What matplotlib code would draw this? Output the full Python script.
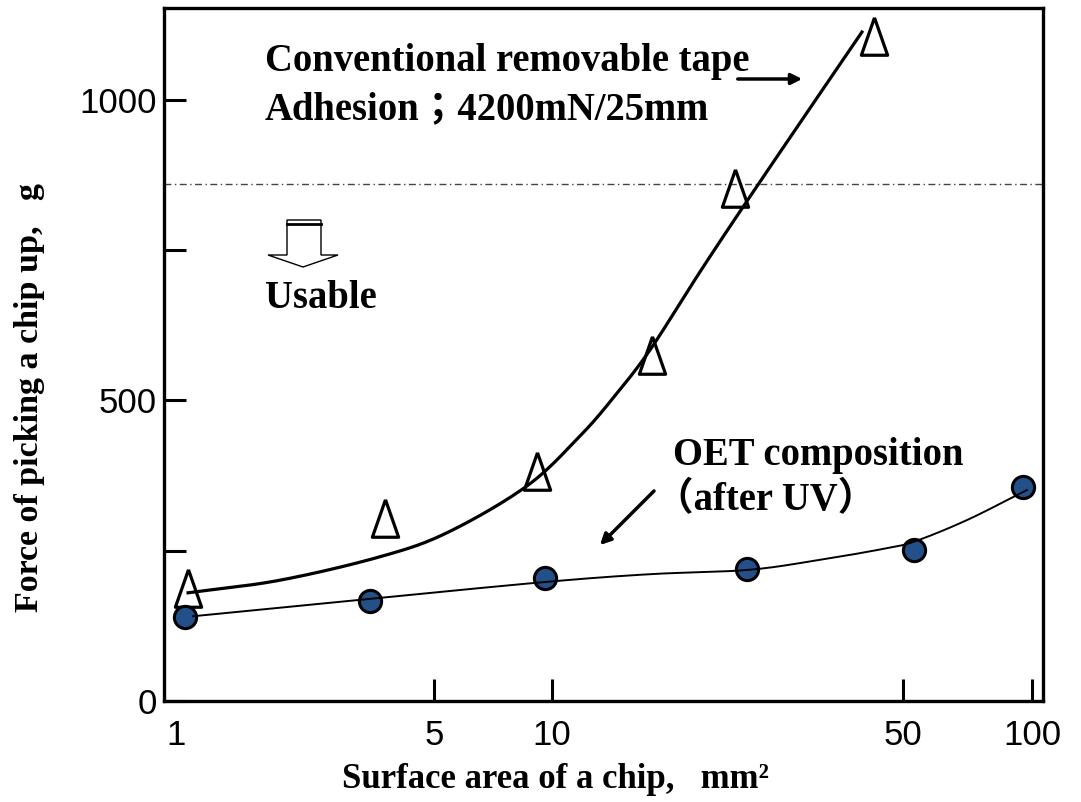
import numpy as np
import matplotlib
matplotlib.use("Agg")
import matplotlib.pyplot as plt
from matplotlib.patches import Polygon
from matplotlib.ticker import FixedLocator, NullLocator

# chip surface area (mm2) vs force of picking a chip up (g)
oet_area = [1.06, 3.35, 9.6, 24.4, 53.0, 95.3]
oet_force = [140, 166, 205, 220, 251, 356]
tape_area = [1.08, 3.68, 9.16, 15.8, 23.1, 43.7]
tape_force = [188, 304, 383, 576, 854, 1107]

# hand drawn trend curves
tape_curve_area = [1.078, 1.913, 3.57, 5.40, 8.64, 11.37, 13.23, 15.67, 19.71, 24.01, 31.18, 41.42]
tape_curve_force = [180, 201, 240, 280, 358, 441, 504, 584, 714, 822, 962, 1113]
oet_curve_area = [1.112, 3.35, 9.6, 15.67, 24.45, 33.7, 45.6, 53.0, 70.5, 97.3]
oet_curve_force = [141, 170, 198, 211, 218, 234, 253, 265, 301, 351]

usable_limit = 860
x_ticks = [1, 5, 10, 50, 100]
x_ticklabels = ['1', '5', '10', '50', '100']
y_ticks = [0, 250, 500, 750, 1000]
y_ticklabels = ['0', '', '500', '', '1000']

W, H = 1081, 802
SERIF = ['Liberation Serif', 'Noto Sans CJK JP', 'DejaVu Sans']

# the log axis of the original is drawn by hand, decades are not even
scale_log = np.log10([0.1, 1, 5, 10, 50, 100, 1000])
scale_pos = np.array([-193, 176, 434, 552, 903, 1032, 1460], dtype=float)


def fwd(x):
    x = np.clip(np.asarray(x, dtype=float), 1e-6, None)
    return np.interp(np.log10(x), scale_log, scale_pos)


def inv(p):
    return 10 ** np.interp(np.asarray(p, dtype=float), scale_pos, scale_log)


def fp(x, y):
    # pixel position in the picture -> figure fraction
    return (x / W, 1 - y / H)


def smooth(xs, ys, n=24):
    # catmull-rom through the read points, done in screen-like space
    p = np.column_stack([fwd(xs), np.asarray(ys, float) * 0.6])
    p = np.vstack([2 * p[0] - p[1], p, 2 * p[-1] - p[-2]])
    out = []
    t = np.linspace(0, 1, n, endpoint=False)[:, None]
    for i in range(1, len(p) - 2):
        p0, p1, p2, p3 = p[i - 1], p[i], p[i + 1], p[i + 2]
        out.append(0.5 * (2 * p1 + (p2 - p0) * t
                          + (2 * p0 - 5 * p1 + 4 * p2 - p3) * t ** 2
                          + (3 * p1 - p0 - 3 * p2 + p3) * t ** 3))
    out.append(p[-2][None, :])
    out = np.vstack(out)
    return inv(out[:, 0]), out[:, 1] / 0.6


fig = plt.figure(figsize=(W / 100, H / 100), dpi=100)
ax = fig.add_axes([164 / W, 1 - 701 / H, (1043 - 164) / W, (701 - 8) / H])
ax.set_xscale('function', functions=(fwd, inv))
ax.set_xlim(inv(164), inv(1043))
ax.set_ylim(0, 1153)

tri = [(0, 1.0), (-0.7, -1.0), (0.7, -1.0), (0, 1.0)]
ax.plot(tape_area, tape_force, linestyle='none', marker=tri, markersize=27,
        markerfacecolor='none', markeredgecolor='black', markeredgewidth=2.3, zorder=2)
ax.plot(oet_area, oet_force, linestyle='none', marker='o', markersize=16,
        markerfacecolor='#24508a', markeredgecolor='black', markeredgewidth=2.2, zorder=2)
ax.plot(*smooth(tape_curve_area, tape_curve_force), color='black', lw=2.3, zorder=3)
ax.plot(*smooth(oet_curve_area, oet_curve_force), color='black', lw=1.4, zorder=3)

ax.axhline(usable_limit, color='#444444', lw=1.0, linestyle=(0, (5, 2.5, 1, 2.5)), zorder=1)

ax.xaxis.set_major_locator(FixedLocator(x_ticks))
ax.xaxis.set_minor_locator(NullLocator())
ax.set_xticklabels(x_ticklabels)
ax.set_yticks(y_ticks)
ax.set_yticklabels(y_ticklabels)
ax.tick_params(direction='in', length=16, width=2.2, labelsize=25, colors='black')
ax.tick_params(axis='x', pad=13)
ax.tick_params(axis='y', pad=5)
for lab in ax.get_xticklabels() + ax.get_yticklabels():
    lab.set_family('Liberation Sans')
ax.xaxis.get_major_ticks()[0].tick1line.set_visible(False)
for sp in ax.spines.values():
    sp.set_linewidth(2.4)

# axis titles
fig.text(*fp(555, 780), 'Surface area of a chip,   mm²', ha='center', va='center',
         family=SERIF, weight='bold', fontsize=25)
fig.text(*fp(30, 397), 'Force of picking a chip up,   g', ha='center', va='center',
         rotation=90, family=SERIF, weight='bold', fontsize=24.5)

# annotations
fig.text(*fp(265, 62), 'Conventional removable tape', ha='left', va='center',
         family=SERIF, weight='bold', fontsize=27.8)
fig.text(*fp(265, 110), 'Adhesion；4200mN/25mm', ha='left', va='center',
         family=SERIF, weight='bold', fontsize=27.8)
fig.text(*fp(265, 298), 'Usable', ha='left', va='center',
         family=SERIF, weight='bold', fontsize=27.8)
fig.text(*fp(673, 455), 'OET composition', ha='left', va='center',
         family=SERIF, weight='bold', fontsize=27.8)
fig.text(*fp(655, 501), '（after UV）', ha='left', va='center',
         family=SERIF, weight='bold', fontsize=27.8)

ax.annotate('', xy=fp(805, 79), xytext=fp(735, 79), xycoords='figure fraction',
            textcoords='figure fraction',
            arrowprops=dict(arrowstyle='-|>', lw=2.5, color='black', mutation_scale=16))
ax.annotate('', xy=fp(598, 547), xytext=fp(656, 489), xycoords='figure fraction',
            textcoords='figure fraction',
            arrowprops=dict(arrowstyle='-|>', lw=2.5, color='black', mutation_scale=16))

# hollow block arrow pointing to the usable side
block = [fp(287, 220), fp(321, 220), fp(321, 255), fp(338, 255), fp(303, 267),
         fp(268, 255), fp(287, 255)]
fig.add_artist(Polygon(block, closed=True, facecolor='white', edgecolor='black',
                       lw=1.0, transform=fig.transFigure))
fig.add_artist(plt.Line2D([287 / W, 321 / W], [1 - 223.5 / H, 1 - 223.5 / H],
                          color='black', lw=2.0, transform=fig.transFigure))

fig.savefig('out.png', dpi=100)
